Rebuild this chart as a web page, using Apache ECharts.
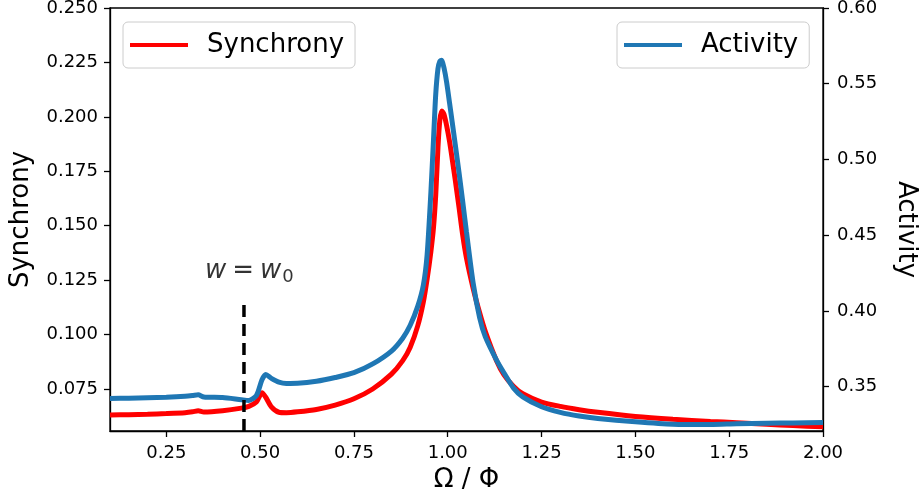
<!DOCTYPE html>
<html>
<head>
<meta charset="utf-8">
<script src="https://cdn.jsdelivr.net/npm/echarts@6/dist/echarts.min.js"></script>
<style>
  html, body { margin: 0; padding: 0; background: #fff; }
  #chart { width: 923px; height: 495px; }
</style>
</head>
<body>
<div id="chart"></div>
<script>
// Driving frequency ratio Ω / Φ
const omega = [
  0.10, 0.15, 0.20, 0.25, 0.30, 0.32, 0.335, 0.35, 0.40, 0.45,
  0.47, 0.49, 0.505, 0.515, 0.53, 0.55, 0.57, 0.60, 0.65, 0.70,
  0.75, 0.80, 0.85, 0.88, 0.90, 0.92, 0.935, 0.945, 0.955, 0.962,
  0.968, 0.974, 0.979, 0.984, 0.990, 0.997, 1.005, 1.012, 1.020, 1.030,
  1.040, 1.050, 1.068, 1.085, 1.10, 1.13, 1.15, 1.175, 1.20, 1.25,
  1.30, 1.35, 1.40, 1.50, 1.60, 1.70, 1.77, 1.85, 1.92, 2.00
];

// Synchrony (left axis)
const synchrony = [
  0.0631, 0.0632, 0.0634, 0.0637, 0.0641, 0.0645, 0.0650, 0.0644, 0.0650, 0.0662,
  0.0670, 0.0690, 0.0733, 0.0712, 0.0668, 0.0643, 0.0641, 0.0645, 0.0656, 0.0676,
  0.0705, 0.0750, 0.0818, 0.0880, 0.0942, 0.1040, 0.1150, 0.1255, 0.1380, 0.1490,
  0.1640, 0.1860, 0.1985, 0.2027, 0.2012, 0.1960, 0.1885, 0.1805, 0.1710, 0.1585,
  0.1455, 0.1350, 0.1210, 0.1100, 0.1015, 0.0880, 0.0815, 0.0763, 0.0728, 0.0690,
  0.0670, 0.0655, 0.0643, 0.0624, 0.0611, 0.0601, 0.0595, 0.0588, 0.0582, 0.0576
];

// Activity (right axis)
const activity = [
  0.3422, 0.3424, 0.3427, 0.3430, 0.3436, 0.3441, 0.3446, 0.3432, 0.3428, 0.3414,
  0.3409, 0.3440, 0.3545, 0.3580, 0.3555, 0.3530, 0.3521, 0.3522, 0.3535, 0.3560,
  0.3592, 0.3650, 0.3735, 0.3820, 0.3905, 0.4030, 0.4170, 0.4370, 0.4780, 0.5128,
  0.5430, 0.5600, 0.5648, 0.5655, 0.5605, 0.5510, 0.5370, 0.5245, 0.5100, 0.4915,
  0.4720, 0.4520, 0.4180, 0.3955, 0.3830, 0.3675, 0.3590, 0.3492, 0.3432, 0.3367,
  0.3330, 0.3306, 0.3290, 0.3268, 0.3252, 0.3250, 0.3255, 0.3258, 0.3260, 0.3263
];

// Axis ranges and ticks
const xRange = [0.1, 2.0];
const xTicks = [0.25, 0.50, 0.75, 1.00, 1.25, 1.50, 1.75, 2.00];
const syncRange = [0.0557, 0.25];
const syncTicks = [0.075, 0.100, 0.125, 0.150, 0.175, 0.200, 0.225, 0.250];
const actRange = [0.3207, 0.60];
const actTicks = [0.35, 0.40, 0.45, 0.50, 0.55, 0.60];

// Marker for w = w0
const w0Omega = 0.457;
const w0Line = [[w0Omega, syncRange[0]], [w0Omega, 0.114]];
const w0LabelPos = [[0.353, 0.1221]];

const FONT = 'DejaVu Sans';
const zip = (xs, ys) => xs.map((x, i) => [x, ys[i]]);

const chart = echarts.init(document.getElementById('chart'), null, { renderer: 'canvas' });

const axisCommon = {
  axisLine: { show: true, lineStyle: { color: '#000', width: 1.3 } },
  axisTick: { show: true, inside: false, length: 6, lineStyle: { color: '#000', width: 1.3 } },
  splitLine: { show: false },
  nameTextStyle: { fontFamily: FONT, fontSize: 26, color: '#000' }
};

const legendCommon = {
  top: 22,
  orient: 'horizontal',
  icon: 'rect',
  itemWidth: 58,
  itemHeight: 4,
  padding: [8, 11, 8, 7],
  backgroundColor: 'rgba(255,255,255,0.8)',
  borderColor: '#cccccc',
  borderWidth: 1,
  borderRadius: 5,
  textStyle: { fontFamily: FONT, fontSize: 26, color: '#000', lineHeight: 30, padding: [0, 0, 0, 14] }
};

chart.setOption({
  animation: false,
  backgroundColor: '#fff',
  grid: {
    left: 110, right: 100, top: 8, bottom: 64,
    containLabel: false,
    outerBoundsMode: 'none',
    show: true, borderColor: '#000', borderWidth: 1.3, backgroundColor: 'transparent'
  },
  legend: [
    Object.assign({}, legendCommon, { left: 123, data: ['Synchrony'] }),
    Object.assign({}, legendCommon, { left: 617, data: ['Activity'] })
  ],
  xAxis: Object.assign({}, axisCommon, {
    type: 'value',
    min: xRange[0], max: xRange[1],
    name: 'Ω / Φ',
    nameLocation: 'middle',
    nameGap: 36,
    axisTick: Object.assign({}, axisCommon.axisTick, { customValues: xTicks }),
    axisLabel: {
      customValues: xTicks,
      margin: 13,
      fontFamily: FONT, fontSize: 18, color: '#000',
      formatter: v => v.toFixed(2)
    }
  }),
  yAxis: [
    Object.assign({}, axisCommon, {
      type: 'value', position: 'left',
      min: syncRange[0], max: syncRange[1],
      name: 'Synchrony',
      nameLocation: 'middle',
      nameGap: 76,
      nameRotate: 90,
      axisTick: Object.assign({}, axisCommon.axisTick, { customValues: syncTicks }),
      axisLabel: {
        customValues: syncTicks,
        margin: 12,
        fontFamily: FONT, fontSize: 18, color: '#000',
        formatter: v => v.toFixed(3)
      }
    }),
    Object.assign({}, axisCommon, {
      type: 'value', position: 'right',
      min: actRange[0], max: actRange[1],
      name: 'Activity',
      nameLocation: 'middle',
      nameGap: 70,
      nameRotate: -90,
      nameTextStyle: { fontFamily: FONT, fontSize: 26, color: '#000', padding: [0, 0, 0, 20] },
      axisTick: Object.assign({}, axisCommon.axisTick, { customValues: actTicks }),
      axisLabel: {
        customValues: actTicks,
        margin: 14,
        fontFamily: FONT, fontSize: 18, color: '#000',
        formatter: v => v.toFixed(2)
      }
    })
  ],
  series: [
    {
      name: 'Synchrony',
      type: 'line',
      yAxisIndex: 0,
      data: zip(omega, synchrony),
      showSymbol: false,
      smooth: 0.25,
      color: '#ff0000',
      lineStyle: { color: '#ff0000', width: 5 },
      z: 2
    },
    {
      name: 'Activity',
      type: 'line',
      yAxisIndex: 1,
      data: zip(omega, activity),
      showSymbol: false,
      smooth: 0.25,
      color: '#1f77b4',
      lineStyle: { color: '#1f77b4', width: 5 },
      z: 3
    },
    {
      name: 'w0',
      type: 'line',
      yAxisIndex: 0,
      data: w0Line,
      showSymbol: false,
      lineStyle: { color: '#000', width: 3.5, type: [12, 7] },
      z: 4,
      silent: true
    },
    {
      name: 'w0label',
      type: 'scatter',
      yAxisIndex: 0,
      data: w0LabelPos,
      symbolSize: 0,
      silent: true,
      label: {
        show: true,
        position: 'inside',
        align: 'left',
        verticalAlign: 'bottom',
        formatter: '{i|w}{n|=}{i|w}{s|0}',
        rich: {
          i: { fontFamily: FONT, fontStyle: 'italic', fontSize: 26, color: '#000' },
          n: { fontFamily: FONT, fontSize: 26, color: '#000', padding: [0, 6, 0, 6] },
          s: { fontFamily: FONT, fontSize: 18, color: '#000', padding: [12, 0, 0, 1] }
        }
      }
    }
  ]
});
</script>
</body>
</html>
